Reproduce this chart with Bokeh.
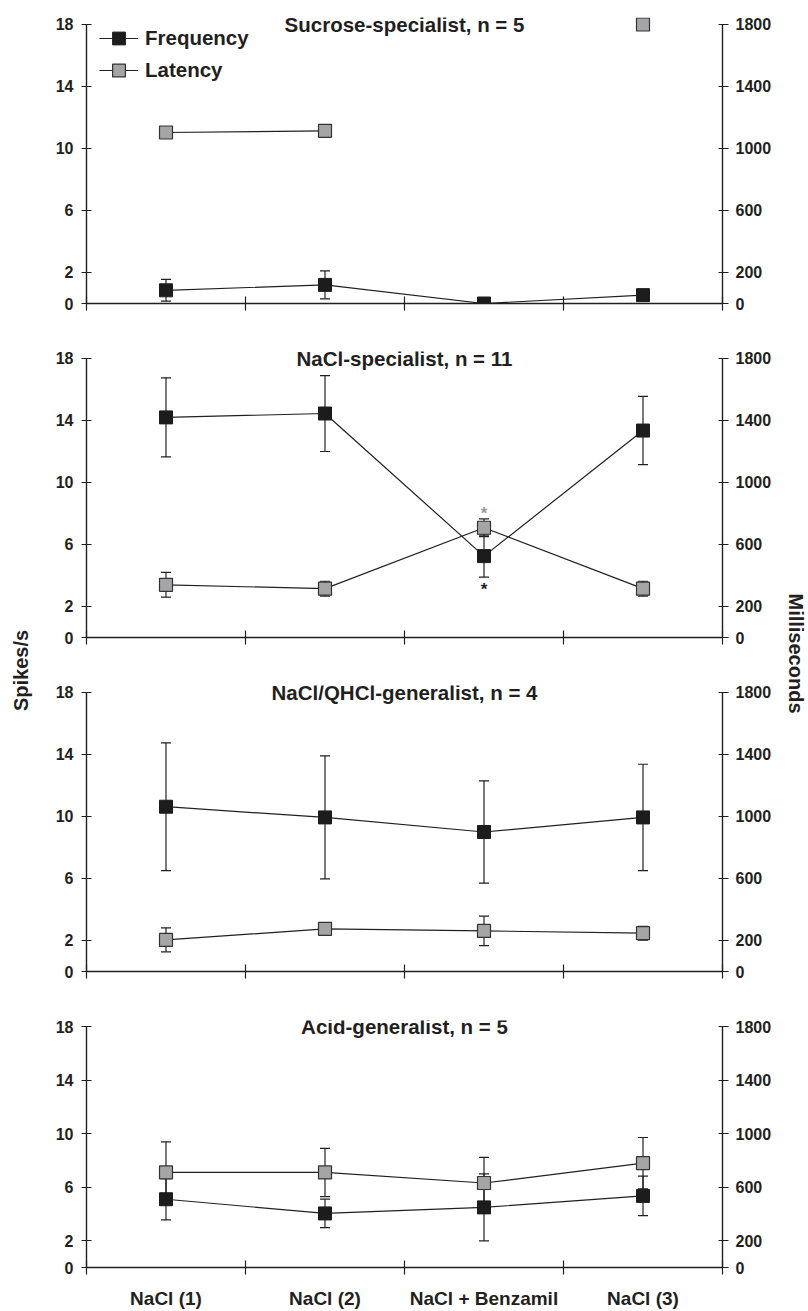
import numpy as np
from bokeh.plotting import figure
from bokeh.models import (Range1d, LinearAxis, FixedTicker, ColumnDataSource, Whisker,
                          TeeHead, Label, Legend, LegendItem)
from bokeh.layouts import row, column
from bokeh.embed import file_html
from bokeh.resources import INLINE
from bokeh.core.properties import value

nan = float("nan")

# ---------------- data ----------------
categories = ["NaCl (1)", "NaCl (2)", "NaCl + Benzamil", "NaCl (3)"]
titles = ["Sucrose-specialist, n = 5", "NaCl-specialist, n = 11",
          "NaCl/QHCl-generalist, n = 4", "Acid-generalist, n = 5"]

left_ticks = [0, 2, 6, 10, 14, 18]
right_ticks = [0, 200, 600, 1000, 1400, 1800]

# Frequency (spikes/s) mean and SEM
freq_sucrose = [0.85, 1.2, 0.0, 0.54]
freq_sucrose_sem = [0.7, 0.9, 0.0, 0.0]
freq_nacl = [14.2, 14.45, 5.25, 13.35]
freq_nacl_sem = [2.55, 2.45, 1.35, 2.2]
freq_qhcl = [10.63, 9.94, 9.0, 9.94]
freq_qhcl_sem = [4.12, 3.97, 3.3, 3.43]
freq_acid = [5.1, 4.04, 4.49, 5.35]
freq_acid_sem = [1.54, 1.06, 2.5, 1.48]

# Latency (ms) mean and SEM
lat_sucrose = [1103, 1114, nan, 1800]
lat_sucrose_sem = [0, 0, nan, 0]
lat_nacl = [340, 315, 708, 315]
lat_nacl_sem = [80, 48, 57, 48]
lat_qhcl = [204, 275, 262, 247]
lat_qhcl_sem = [77, 25, 95, 45]
lat_acid = [710, 710, 631, 779]
lat_acid_sem = [229, 180, 192, 192]

# ---------------- style ----------------
FONT = "Liberation Sans"
INK = "#231f20"
GREY = "#a5a5a8"
DARK = "#1c1c1c"

xpos = list(np.arange(len(categories)) + 0.5)
Y_END = 18.45


def style_axis(ax, tin=5, tout=5):
    ax.axis_line_color = INK
    ax.axis_line_width = 1.4
    ax.major_tick_line_color = INK
    ax.major_tick_line_width = 1.2
    ax.major_tick_in = tin
    ax.major_tick_out = tout
    ax.minor_tick_line_color = None
    ax.major_label_text_font = FONT
    ax.major_label_text_font_style = "bold"
    ax.major_label_text_font_size = "16px"
    ax.major_label_text_color = INK


def make_panel(title, freq, fsem, lat, lsem, height, top, bottom,
               legend=False, xlabels=False, asterisks=False):
    p = figure(width=726, height=height, x_range=Range1d(0, 4), y_range=Range1d(0, Y_END),
               toolbar_location=None, output_backend="svg",
               min_border_left=38, min_border_right=52,
               min_border_top=top, min_border_bottom=bottom)
    p.extra_y_ranges = {"ms": Range1d(0, Y_END * 100)}
    p.outline_line_color = None
    p.grid.visible = False
    p.background_fill_color = "white"

    # left axis
    p.yaxis.ticker = FixedTicker(ticks=left_ticks)
    p.yaxis.bounds = (0, 18)
    style_axis(p.yaxis[0])
    p.yaxis.major_label_standoff = 8

    # right axis
    ra = LinearAxis(y_range_name="ms", ticker=FixedTicker(ticks=right_ticks), bounds=(0, 1800))
    style_axis(ra, 4, 6)
    ra.major_label_standoff = 7
    p.add_layout(ra, "right")

    # bottom axis (tick marks only)
    p.xaxis.ticker = FixedTicker(ticks=list(range(len(categories) + 1)))
    style_axis(p.xaxis[0], 7, 7)
    p.xaxis.major_label_overrides = {i: "" for i in range(len(categories) + 1)}
    p.xaxis.major_label_text_font_size = "1px"
    p.xaxis.major_label_standoff = 0

    if xlabels:
        la = LinearAxis(ticker=FixedTicker(ticks=xpos),
                        major_label_overrides={x: c for x, c in zip(xpos, categories)})
        la.axis_line_color = None
        la.major_tick_line_color = None
        la.minor_tick_line_color = None
        la.major_tick_in = 0
        la.major_tick_out = 0
        la.major_label_standoff = 13
        la.major_label_text_font = FONT
        la.major_label_text_font_style = "bold"
        la.major_label_text_font_size = "19px"
        la.major_label_text_color = INK
        p.add_layout(la, "below")

    # error bars
    fx = [x for x, e in zip(xpos, fsem) if e == e and e > 0]
    fu = [m + e for m, e in zip(freq, fsem) if e == e and e > 0]
    fl_ = [m - e for m, e in zip(freq, fsem) if e == e and e > 0]
    if fx:
        src = ColumnDataSource(dict(x=fx, upper=fu, lower=fl_))
        w = Whisker(base="x", upper="upper", lower="lower", source=src, level="underlay",
                    line_color=INK, line_width=1.2,
                    upper_head=TeeHead(size=10, line_color=INK, line_width=1.2),
                    lower_head=TeeHead(size=10, line_color=INK, line_width=1.2))
        p.add_layout(w)
    lx = [x for x, e in zip(xpos, lsem) if e == e and e > 0]
    lu = [m + e for m, e in zip(lat, lsem) if e == e and e > 0]
    ll_ = [m - e for m, e in zip(lat, lsem) if e == e and e > 0]
    if lx:
        src = ColumnDataSource(dict(x=lx, upper=lu, lower=ll_))
        w = Whisker(base="x", upper="upper", lower="lower", source=src, level="underlay",
                    y_range_name="ms", line_color=INK, line_width=1.2,
                    upper_head=TeeHead(size=10, line_color=INK, line_width=1.2),
                    lower_head=TeeHead(size=10, line_color=INK, line_width=1.2))
        p.add_layout(w)

    fsrc = ColumnDataSource(dict(x=xpos, y=freq))
    lsrc = ColumnDataSource(dict(x=xpos, y=lat))
    l_line = p.line("x", "y", source=lsrc, y_range_name="ms", line_color=INK, line_width=1.2)
    f_line = p.line("x", "y", source=fsrc, line_color=INK, line_width=1.2)
    l_mark = p.scatter("x", "y", source=lsrc, y_range_name="ms", marker="square", size=13,
                       fill_color=GREY, line_color="#333333", line_width=1.2)
    f_mark = p.scatter("x", "y", source=fsrc, marker="square", size=13,
                       fill_color=DARK, line_color=DARK, line_width=1)

    if asterisks:
        k = 2
        p.text(x=[xpos[k]], y=[lat[k] + lsem[k]], y_range_name="ms", text=["*"],
               text_align="center", text_baseline="middle", y_offset=-5,
               text_font=value(FONT), text_font_style="bold", text_font_size="17px",
               text_color="#9a9a9a")
        p.text(x=[xpos[k]], y=[freq[k] - fsem[k]], text=["*"],
               text_align="center", text_baseline="middle", y_offset=12,
               text_font=value(FONT), text_font_style="bold", text_font_size="17px",
               text_color=INK)

    p.add_layout(Label(x=2, y=18, text=title, text_align="center", text_baseline="middle",
                       text_font=FONT, text_font_style="bold", text_font_size="20.5px",
                       text_color=INK))

    if legend:
        lg = Legend(items=[LegendItem(label="Frequency", renderers=[f_line, f_mark]),
                           LegendItem(label="Latency", renderers=[l_line, l_mark])],
                    location=(13, 217), margin=0, padding=0, spacing=0,
                    glyph_width=39, glyph_height=32, label_height=32, label_standoff=7,
                    label_text_font=FONT, label_text_font_style="bold",
                    label_text_font_size="20.5px", label_text_color=INK,
                    border_line_color=None, background_fill_alpha=0)
        p.add_layout(lg)
    return p


p1 = make_panel(titles[0], freq_sucrose, freq_sucrose_sem, lat_sucrose, lat_sucrose_sem,
                327, 17, 24, legend=True)
p2 = make_panel(titles[1], freq_nacl, freq_nacl_sem, lat_nacl, lat_nacl_sem,
                334, 24, 24, asterisks=True)
p3 = make_panel(titles[2], freq_qhcl, freq_qhcl_sem, lat_qhcl, lat_qhcl_sem,
                334, 24, 24)
p4 = make_panel(titles[3], freq_acid, freq_acid_sem, lat_acid, lat_acid_sem,
                316, 25, 42, xlabels=True)

TOTAL_H = 327 + 334 + 334 + 316


def label_fig(width, text, x, y, angle):
    f = figure(width=width, height=TOTAL_H, x_range=Range1d(0, width), y_range=Range1d(0, TOTAL_H),
               toolbar_location=None, output_backend="svg", min_border=0,
               x_axis_location=None, y_axis_location=None)
    f.outline_line_color = None
    f.grid.visible = False
    f.text(x=[x], y=[y], text=[text], angle=angle, text_align="center", text_baseline="middle",
           text_font=value(FONT), text_font_style="bold", text_font_size="20px", text_color=INK)
    return f


left = label_fig(48, "Spikes/s", 20, TOTAL_H - 670, np.pi / 2)
right = label_fig(34, "Milliseconds", 21, TOTAL_H - 653, -np.pi / 2)

layout = row(left, column(p1, p2, p3, p4), right)
open("out.html", "w").write(file_html(layout, INLINE))
